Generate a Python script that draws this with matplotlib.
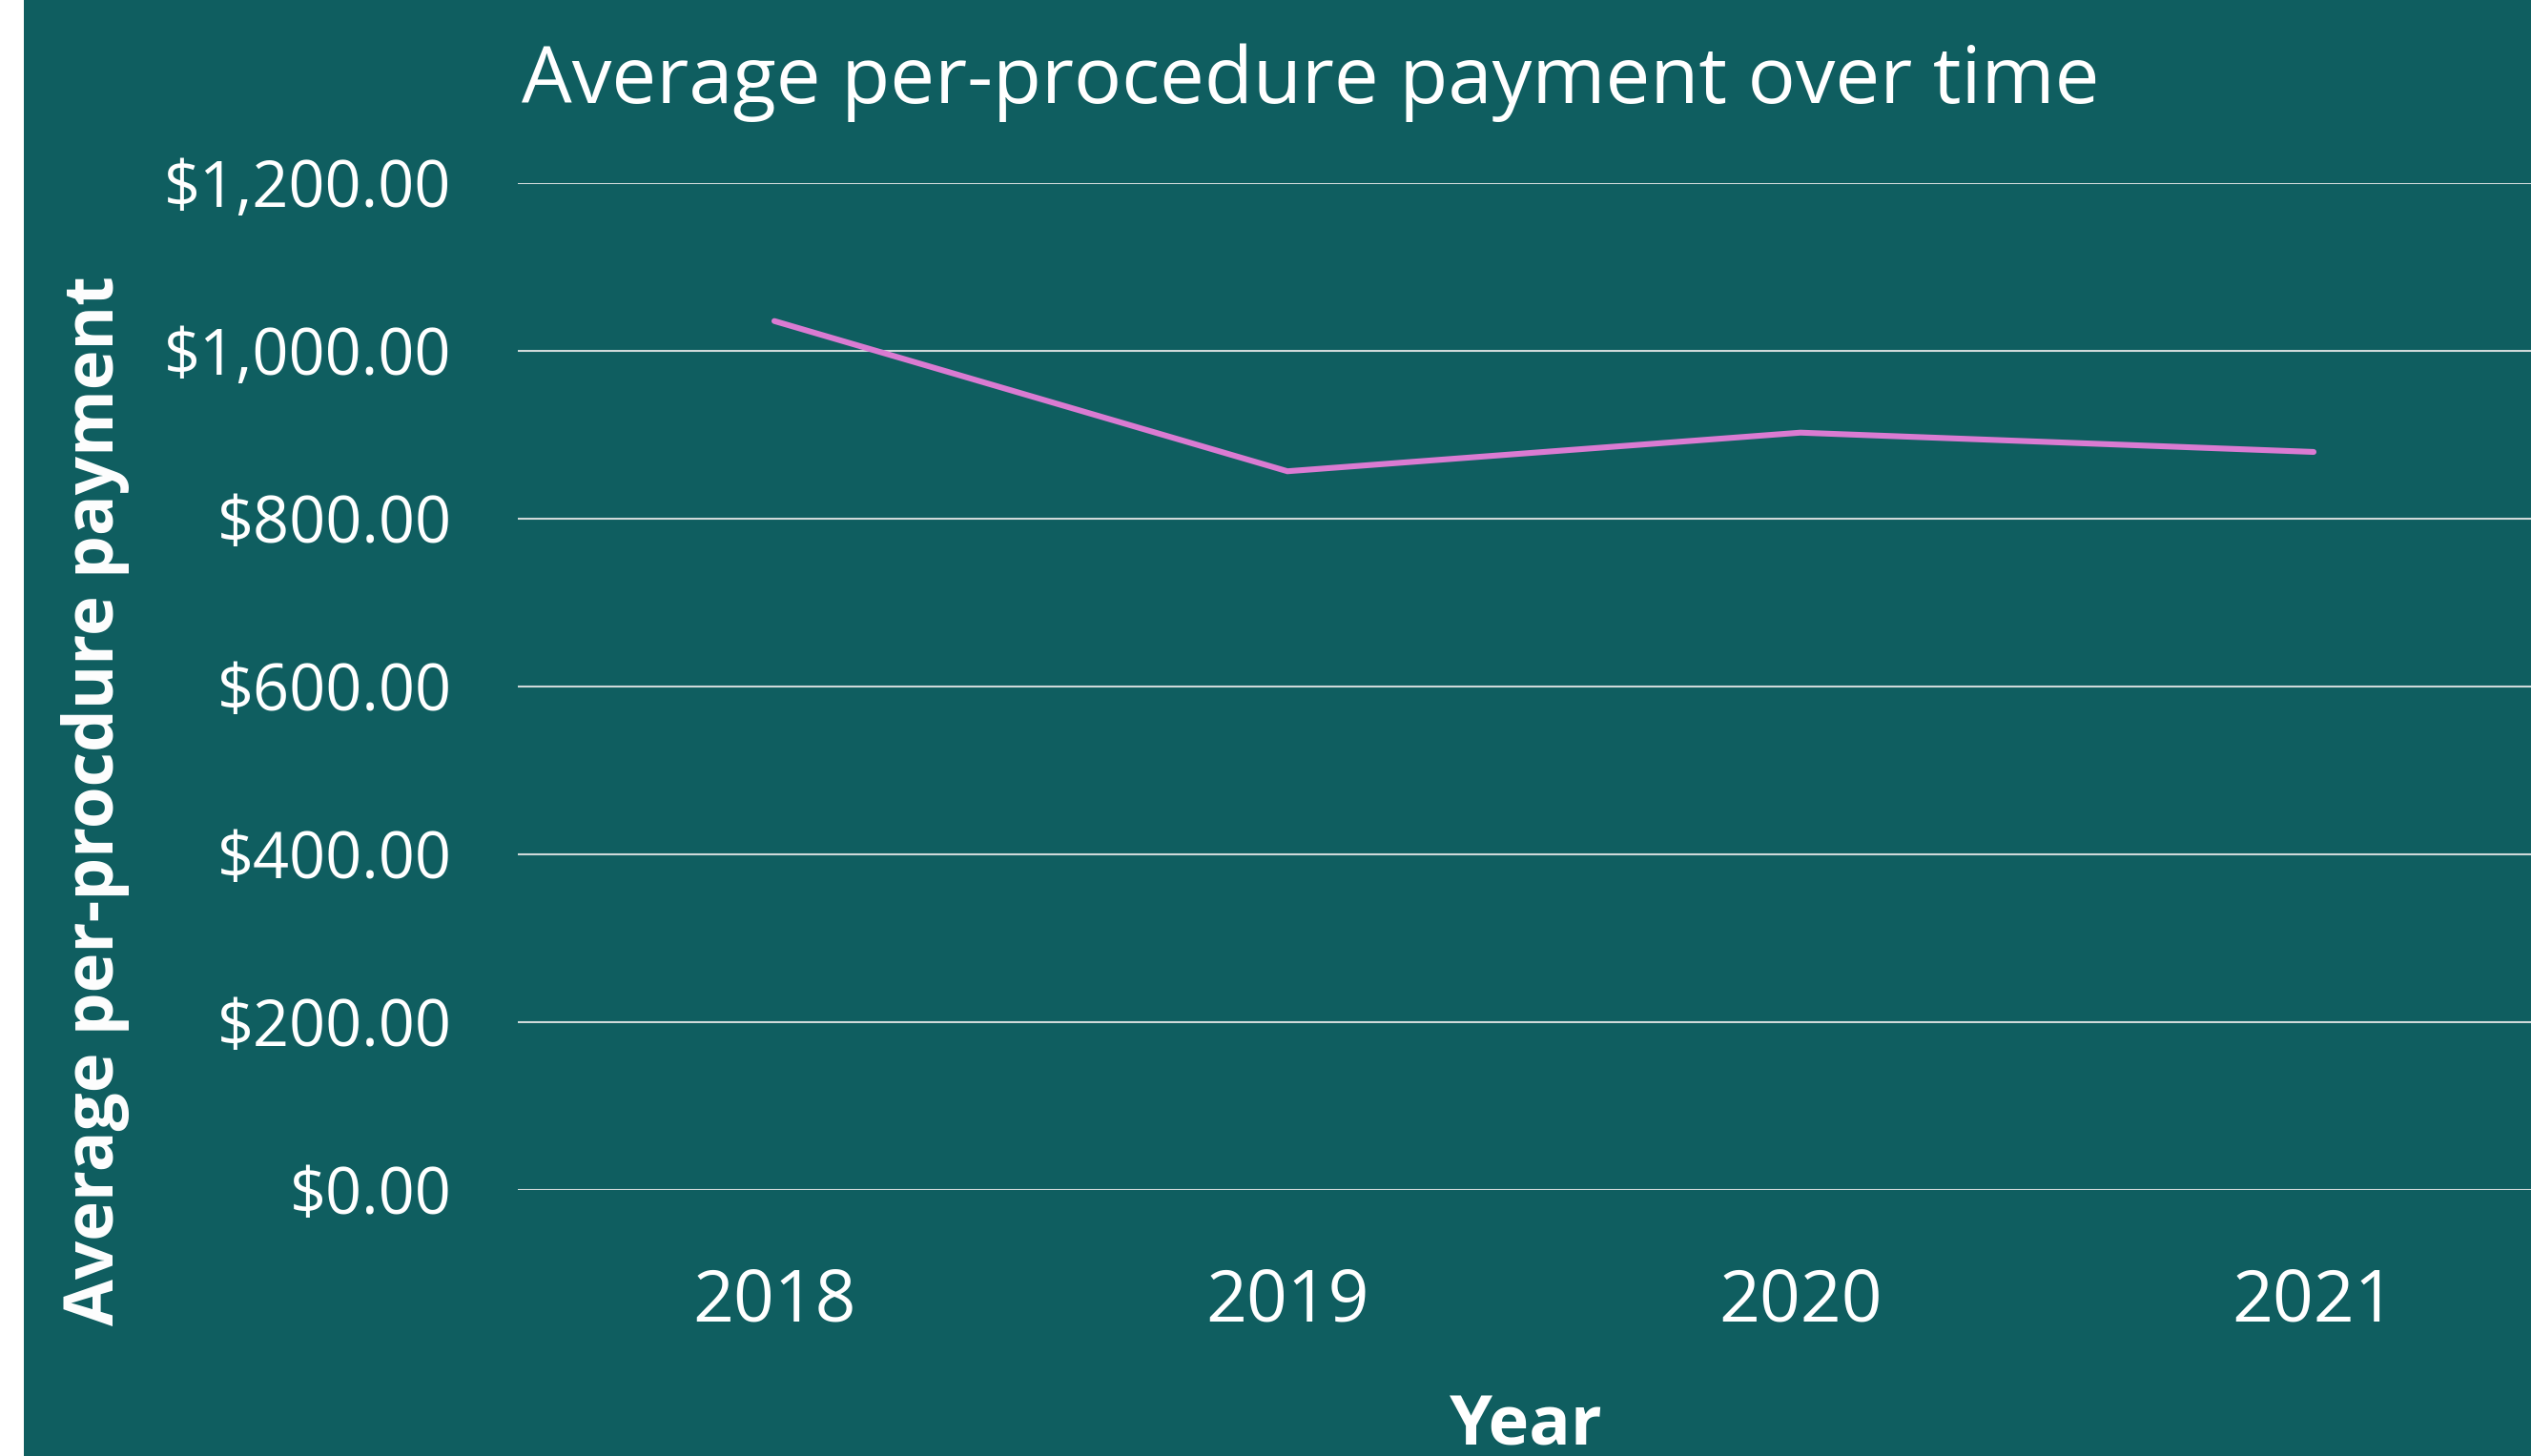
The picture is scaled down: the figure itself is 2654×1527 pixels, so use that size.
import matplotlib
matplotlib.use("Agg")
import matplotlib.pyplot as plt
from matplotlib.patches import Rectangle
from matplotlib.ticker import FuncFormatter

years = ["2018", "2019", "2020", "2021"]
avg_payment = [1035, 856, 902, 879]
y_ticks = [0, 200, 400, 600, 800, 1000, 1200]

bg = "#0F5E60"
line_color = "#DA7BD2"
grid_color = "#CFD9D9"

plt.rcParams["font.family"] = ["Open Sans", "DejaVu Sans"]

W, H = 2654, 1527
fig = plt.figure(figsize=(W / 100, H / 100), dpi=100, facecolor=bg)

# white strip on the left edge
fig.patches.append(Rectangle((0, 0), 25 / W, 1, transform=fig.transFigure,
                             facecolor="white", edgecolor="none", zorder=0))

# axes: category axis runs past the right edge of the picture
left, right = 543 / W, 2695 / W
bottom, top = 1 - 1247.5 / H, 1 - 191.5 / H
ax = fig.add_axes([left, bottom, right - left, top - bottom])
ax.set_facecolor(bg)

x = list(range(len(years)))
ax.plot(x, avg_payment, color=line_color, linewidth=4.4, solid_capstyle="round",
        solid_joinstyle="miter", zorder=3)

ax.set_xlim(-0.5, len(years) - 0.5)
ax.set_ylim(0, 1200)
ax.set_yticks(y_ticks)
ax.yaxis.set_major_formatter(FuncFormatter(lambda v, p: "${:,.2f}".format(v)))
ax.set_xticks(x)
ax.set_xticklabels(years)

ax.grid(axis="y", color=grid_color, linewidth=1.5)
ax.set_axisbelow(True)
for s in ax.spines.values():
    s.set_visible(False)

ax.tick_params(axis="y", length=0, pad=50, labelsize=48, labelcolor="white")
ax.tick_params(axis="x", length=0, pad=58, labelsize=54, labelcolor="white")

fig.text(547 / W, 1 - 108 / H, "Average per-procedure payment over time",
         color="white", fontsize=60, ha="left", va="baseline")
fig.text(100 / W, 1 - 840 / H, "Average per-procdure payment", color="white",
         fontsize=51, fontweight="bold", rotation=90, ha="center", va="center")
fig.text(1600 / W, 1 - 1496 / H, "Year", color="white", fontsize=52,
         fontweight="bold", ha="center", va="center")

fig.savefig("out.png", dpi=100, facecolor=bg)
